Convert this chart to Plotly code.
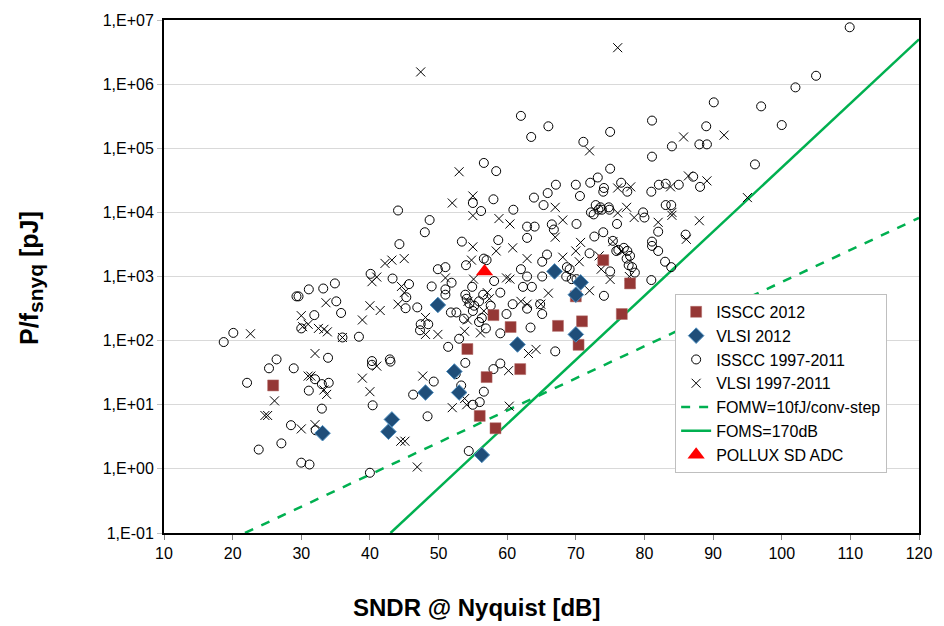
import plotly.graph_objects as go

# ---- ISSCC 2012 (SNDR dB, energy pJ) ----
isscc12_sndr = [25.9, 54.2, 58.0, 60.5, 57.0, 61.9, 56.0, 58.3, 67.4, 70.9, 70.0, 74.0, 77.9, 76.7, 70.4]
isscc12_e = [20, 74, 250, 163, 27, 36, 6.7, 4.3, 170, 200, 490, 1800, 780, 260, 86]

# ---- VLSI 2012 ----
vlsi12_sndr = [33.1, 42.7, 43.2, 48.1, 52.3, 53.0, 49.9, 61.5, 56.3, 66.9, 70.7, 70.0, 70.0]
vlsi12_e = [3.6, 3.8, 5.9, 15.5, 33, 15.5, 360, 87, 1.65, 1200, 810, 520, 125]

# ---- POLLUX SD ADC ----
pollux_sndr = [56.7]
pollux_e = [1200]

# ---- ISSCC 1997-2011 ----
isscc_sndr = [
    62.0, 63.5, 56.6, 58.4, 109.9, 105.0, 102.0, 97.0, 100.0, 96.1, 90.1, 66.0, 81.1, 75.0,
    71.1, 84.0, 89.0, 88.0, 89.1, 81.1, 75.0, 67.1, 70.0, 72.1, 73.2, 76.6, 82.1, 83.1,
    85.0, 87.1, 88.1, 74.1,
    55.0, 58.0, 44.1, 56.2, 60.9, 63.9, 48.7, 48.0, 62.9, 64.0, 62.9, 44.3, 53.4, 58.7,
    56.6, 57.0, 54.0, 49.9, 51.0, 51.9, 40.1, 43.3, 45.7, 45.3, 45.2, 46.9, 49.0, 51.0,
    51.0, 54.9, 58.1, 59.0, 56.5, 53.9, 54.1, 54.5, 55.2, 55.9, 57.6, 60.8, 59.9, 55.0,
    56.3, 62.9, 51.8, 52.6, 55.9, 56.9, 53.0, 59.0, 63.4, 51.4, 38.4, 47.4, 47.3, 48.5,
    53.7, 42.9, 40.3, 62.0, 62.9, 62.3, 63.6,
    29.3, 29.6, 31.1, 33.2, 34.9, 35.1, 35.8, 31.9, 30.0, 36.0, 18.7, 20.1, 26.4, 33.9,
    25.3, 28.9, 22.1, 32.0, 31.1, 33.0, 34.0, 33.0, 28.5, 32.1, 27.1, 23.8, 30.0, 31.2,
    40.3, 43.0, 40.4, 49.3, 46.3, 48.4, 40.0, 52.5, 53.9, 53.3, 55.0, 56.0, 56.6, 58.0,
    59.0, 54.4,
    65.9, 65.3, 70.6, 74.0, 77.5, 81.0, 72.9, 73.6, 72.2, 74.8, 80.0, 79.8, 83.1, 83.9,
    86.0, 82.0, 81.1, 81.1, 82.0, 83.0, 83.9, 81.0, 77.7, 78.6, 75.0, 72.7, 68.7, 69.1,
    65.1, 68.6, 69.4, 70.1, 74.1, 64.8, 65.1, 67.0, 66.5, 66.8, 70.1, 74.0, 72.0, 72.6,
    73.3, 73.8, 74.9, 76.0, 75.4, 76.2, 77.0, 75.9, 77.5, 77.4, 77.9, 78.2, 65.1, 65.8,
]
isscc_e = [
    3.2e5, 1.5e5, 5.9e4, 4.4e4, 7.7e6, 1.35e6, 8.9e5, 4.5e5, 2.3e5, 5.6e4, 5.2e5, 2.2e5, 2.7e5, 1.8e5,
    1.26e5, 1.07e5, 2.2e5, 1.15e5, 1.15e5, 7.4e4, 4.8e4, 2.7e4, 2.7e4, 2.9e4, 3.5e4, 2.9e4, 2.7e4, 2.8e4,
    2.7e4, 3.6e4, 2.5e4, 2.4e4,
    1.4e4, 1.6e4, 1.07e4, 1.05e4, 1.1e4, 1.7e4, 7.6e3, 4.9e3, 6.0e3, 6.0e3, 4.0e3, 3.2e3, 3.5e3, 3.7e3,
    1.9e3, 1.8e3, 1.5e3, 1.3e3, 1.4e3, 800, 1.1e3, 930, 760, 475, 320, 330, 700, 630,
    520, 690, 850, 560, 520, 520, 450, 380, 350, 410, 350, 370, 260, 290,
    225, 315, 275, 275, 195, 155, 107, 130, 160, 80, 115, 180, 145, 180,
    220, 51, 48, 1300, 1000, 690, 690,
    490, 490, 630, 650, 780, 410, 270, 250, 155, 112, 95, 132, 51, 54,
    37, 37, 22, 25, 16.6, 21, 22, 8.7, 4.8, 4.0, 2.5, 2.0, 1.25, 1.17,
    42, 47, 9.8, 23, 14.4, 6.6, 0.87, 30, 45, 20, 10, 11, 16, 36,
    44, 1.9,
    2.0e4, 1.3e4, 1.8e4, 2.1e4, 2.1e4, 2.1e4, 1.3e4, 1.2e4, 1.0e4, 1.2e4, 8.3e3, 1.0e4, 1.3e4, 1.3e4,
    4.5e3, 5.0e3, 3.5e3, 3.0e3, 2.5e3, 1.7e3, 1.4e3, 880, 1.5e3, 1.15e3, 1.2e3, 4.2e3, 1.4e3, 1.3e3,
    1.0e3, 1.0e3, 910, 910, 500, 370, 260, 68, 6.5e3, 5.4e3, 6.6e3, 4.9e3, 2.3e3, 9.3e3,
    1.1e4, 1.1e4, 1.1e4, 6.6e3, 3.6e3, 2.6e3, 2.8e3, 2.5e3, 2.5e3, 1.9e3, 2.1e3, 1.4e3, 1.7e3, 2.2e3,
]

# ---- VLSI 1997-2011 ----
vlsi_sndr = [
    47.4, 76.1, 95.0, 53.0, 72.0, 85.7, 91.6, 78.0, 76.1, 83.8, 86.4, 89.1,
    52.0, 55.0, 55.0, 58.8, 60.4, 55.0, 58.4, 60.8, 62.9, 54.8, 51.0, 40.3, 41.0, 42.2,
    43.2, 45.0, 44.6, 45.0, 44.1, 55.1, 57.1, 54.3, 57.4, 56.6, 54.2, 62.9, 62.0, 56.1,
    53.8, 64.2, 63.1, 38.9, 40.0, 41.5, 48.1, 48.1, 49.9, 59.9, 60.4,
    33.6, 30.0, 30.2, 31.0, 32.5, 33.8, 33.3, 36.0, 22.6, 32.0,
    31.0, 31.4, 33.3, 33.7, 26.1, 24.7, 25.1, 30.0, 32.0,
    41.0, 38.9, 40.0, 47.7, 44.5, 45.1, 46.9, 52.0, 53.8, 54.1, 60.2, 60.3,
    67.0, 76.1, 77.4, 78.5, 82.0, 84.0, 84.0, 88.0, 86.1, 75.4, 73.7, 75.0, 73.4, 70.7,
    70.0, 70.5, 72.0, 66.0, 77.8, 78.0, 76.6, 67.0, 68.1, 64.9, 68.1,
]
vlsi_e = [
    1.55e6, 3.7e6, 1.7e4, 4.3e4, 9.1e4, 1.5e5, 1.6e5, 2.5e4, 2.4e4, 2.5e4, 3.7e4, 3.1e4,
    1.4e4, 1.8e4, 8.9e3, 8.0e3, 6.6e3, 2.9e3, 2.5e3, 2.8e3, 1.9e3, 1.8e3, 950, 830, 980, 1.6e3,
    1.8e3, 1.9e3, 700, 560, 370, 910, 560, 410, 450, 290, 210, 370, 410, 132,
    140, 73, 63, 210, 350, 295, 230, 125, 125, 950, 910,
    390, 245, 165, 180, 155, 137, 150, 112, 128, 63,
    28, 28, 17, 14.5, 11.5, 6.8, 6.8, 4.2, 4.9,
    40, 26, 16, 28, 2.7, 2.7, 1.07, 9, 12.5, 10, 34, 9.5,
    1.2e4, 9.8e3, 1.2e4, 8.3e3, 7.0e3, 1.0e4, 9.0e3, 7.4e3, 3.8e3, 3.5e3, 1.3e3, 900, 2.1e3, 3.4e3,
    2.5e3, 1.7e3, 600, 550, 1.0e3, 780, 2.5e3, 4.1e3, 2.0e3, 370, 7.6e3,
]

# ---- figure-of-merit reference lines (end points) ----
fomw_sndr = [21.8, 120]
fomw_e = [0.1, 8.2e3]
foms_sndr = [43.0, 120]
foms_e = [0.1, 5.0e6]

# ---- axis ticks ----
y_tickvals = [1e-1, 1e0, 1e1, 1e2, 1e3, 1e4, 1e5, 1e6, 1e7]
y_ticktext = ["1,E-01", "1,E+00", "1,E+01", "1,E+02", "1,E+03", "1,E+04", "1,E+05", "1,E+06", "1,E+07"]
x_tickvals = [10, 20, 30, 40, 50, 60, 70, 80, 90, 100, 110, 120]

FONT = "Liberation Sans, Arial, sans-serif"
GREEN = "#00B050"

fig = go.Figure()

fig.add_trace(go.Scatter(
    x=fomw_sndr, y=fomw_e, mode="lines", name="FOMW=10fJ/conv-step",
    line=dict(color=GREEN, width=2.5, dash="dash"), legendrank=5,
    legendgroup="g5"))
fig.add_trace(go.Scatter(
    x=foms_sndr, y=foms_e, mode="lines", name="FOMS=170dB",
    line=dict(color=GREEN, width=2.5), legendrank=6, legendgroup="g6"))
fig.add_trace(go.Scatter(
    x=isscc_sndr, y=isscc_e, mode="markers", name="ISSCC 1997-2011",
    marker=dict(symbol="circle-open", size=9, color="#000000", line=dict(width=1)),
    legendrank=3, legendgroup="g3"))
fig.add_trace(go.Scatter(
    x=vlsi_sndr, y=vlsi_e, mode="markers", name="VLSI 1997-2011",
    marker=dict(symbol="x-thin-open", size=9, color="#000000", line=dict(width=1, color="#000000")),
    legendrank=4, legendgroup="g4"))
fig.add_trace(go.Scatter(
    x=isscc12_sndr, y=isscc12_e, mode="markers", name="ISSCC 2012",
    marker=dict(symbol="square", size=11, color="#953735", line=dict(width=0.5, color="#B06A68")),
    legendrank=1, legendgroup="g1"))
fig.add_trace(go.Scatter(
    x=vlsi12_sndr, y=vlsi12_e, mode="markers", name="VLSI 2012",
    marker=dict(symbol="diamond", size=12, color="#1F4E79", line=dict(width=1, color="#4F8FBF")),
    legendrank=2, legendgroup="g2"))
fig.add_trace(go.Scatter(
    x=pollux_sndr, y=pollux_e, mode="markers", name="POLLUX SD ADC",
    marker=dict(symbol="triangle-up", size=15, color="#FF0000"),
    legendrank=7, legendgroup="g7"))

fig.update_layout(
    width=944, height=626,
    margin=dict(l=164, r=21, t=15, b=93),
    paper_bgcolor="white", plot_bgcolor="white",
    font=dict(family=FONT, size=15, color="#000000"),
    showlegend=True,
    legend=dict(
        x=0.677, y=0.466, xanchor="left", yanchor="top",
        bgcolor="white", bordercolor="#BFBFBF", borderwidth=1,
        font=dict(family=FONT, size=16, color="#000000"),
        tracegroupgap=0, traceorder="grouped",
    ),
    xaxis=dict(
        type="linear", range=[10, 120], tickvals=x_tickvals,
        showgrid=False, zeroline=False,
        showline=True, linecolor="#000000", linewidth=2, mirror=True,
        ticks="outside", ticklen=5, tickcolor="#808080",
        tickfont=dict(size=16),
    ),
    yaxis=dict(
        type="log", range=[-1, 7], tickvals=y_tickvals, ticktext=y_ticktext,
        showgrid=True, gridcolor="#D9D9D9", gridwidth=1, zeroline=False,
        showline=True, linecolor="#000000", linewidth=2, mirror=True,
        ticks="outside", ticklen=5, tickcolor="#BFBFBF",
        tickfont=dict(size=16),
    ),
    annotations=[
        dict(text="<b>SNDR @ Nyquist [dB]</b>", xref="paper", yref="paper",
             x=0.4137, y=-0.145, xanchor="center", yanchor="middle",
             showarrow=False, font=dict(family=FONT, size=24)),
        dict(text="<b>P/f<sub><span style='font-size:21px'>snyq</span></sub> [pJ]</b>",
             xref="paper", yref="paper",
             x=-0.177, y=0.498, xanchor="center", yanchor="middle", textangle=-90,
             showarrow=False, font=dict(family=FONT, size=25)),
    ],
)

fig.write_html("out.html")
